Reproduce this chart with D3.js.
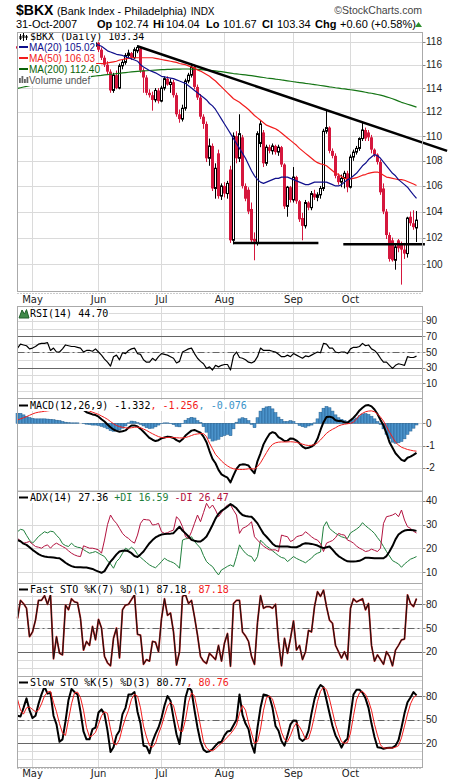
<!DOCTYPE html>
<html>
<meta charset="utf-8" />
<style>
	html, body, svg { margin: 0; padding: 0; }
	body { background: #fff; }
	text { font-family: "Liberation Sans", Arial, sans-serif; }
	.mono { font-family: "DejaVu Sans Mono", "Liberation Mono", monospace; font-size: 10px; }
	.ov { font-size: 10px; }
	.tick { font-size: 10px; fill: #222; }
	.month { font-family: "DejaVu Sans", Verdana, sans-serif; font-size: 10px; fill: #222; }
</style>
<svg width="460" height="781"></svg>
<script src="https://d3js.org/d3.v7.min.js"></script>
<script>
// daily bars, 24-Apr-2007 .. 31-Oct-2007: [open, high, low, close]
var ohlc = [
	[117.6,118.2,117.0,117.4],[117.4,117.9,116.8,117.1],[117.1,117.5,116.4,116.7],[116.7,117.8,116.5,117.6],[117.6,118.3,117.2,118.0],
	[118.0,118.5,117.5,117.8],[117.8,118.4,117.4,118.1],[118.1,118.6,117.6,117.9],[117.9,118.4,117.2,117.5],[117.5,117.9,116.9,117.2],
	[117.2,118.0,117.0,117.8],[117.8,118.4,117.5,118.2],[118.2,118.6,117.6,117.7],[117.7,117.9,116.6,116.8],[116.8,117.3,116.3,117.1],
	[117.1,117.4,116.2,116.4],[116.4,117.0,115.9,116.8],[116.8,117.6,116.6,117.4],[117.4,117.7,116.8,117.0],[117.0,117.3,116.3,116.5],
	[116.5,117.1,116.2,116.9],[116.9,117.6,116.7,117.4],[117.4,118.0,117.1,117.8],[117.8,118.2,117.3,117.5],[117.5,117.9,117.0,117.7],
	[117.7,118.3,117.4,118.0],[117.6,118.2,117.2,117.9],[117.9,118.1,117.1,117.3],[117.3,117.5,116.4,116.6],[116.6,116.8,115.8,116.0],
	[116.0,116.3,115.2,115.4],[115.4,115.6,113.6,113.8],[113.8,115.3,113.6,115.1],[115.1,115.5,113.9,114.0],[114.0,116.1,113.9,115.9],
	[115.9,116.4,115.6,116.2],[116.2,117.0,116.0,116.8],[116.8,117.3,116.5,117.0],[117.0,117.1,116.4,116.6],[116.6,117.5,116.5,117.3],
	[117.2,117.7,117.0,117.5],[117.4,117.6,115.3,115.5],[115.5,115.7,113.6,114.9],[114.9,115.1,113.4,113.6],[113.6,113.9,113.2,113.4],
	[113.4,113.7,112.1,113.0],[113.0,114.0,112.8,113.8],[113.8,114.0,112.7,112.9],[112.9,114.2,112.8,114.0],[114.0,115.0,113.8,114.8],
	[114.8,115.0,114.2,114.3],[114.3,114.8,113.6,114.5],[114.5,114.7,113.2,113.4],[113.4,113.6,111.6,111.8],[111.8,112.2,111.1,111.4],
	[111.4,112.6,111.2,112.3],[112.3,114.8,112.1,114.6],[114.6,115.3,114.4,115.1],[115.1,116.1,114.9,115.8],[115.8,116.0,113.9,114.1],
	[114.1,114.3,113.0,113.2],[113.2,113.5,111.4,111.6],[111.6,111.8,110.6,111.0],[111.0,111.2,107.9,108.2],[108.2,109.8,107.6,109.2],
	[109.2,109.4,105.6,105.8],[105.8,107.8,105.0,107.4],[108.6,108.9,105.0,105.2],[105.2,106.2,104.9,106.0],[106.0,106.3,105.1,105.4],
	[105.4,106.4,105.0,106.2],[107.3,107.6,101.6,101.8],[101.8,110.3,101.5,110.0],[110.0,110.4,107.8,108.2],[108.2,111.8,107.9,110.2],
	[109.9,110.1,105.8,106.0],[106.0,106.2,104.8,105.0],[105.7,105.9,103.8,104.0],[104.2,104.7,101.6,101.8],[101.9,102.4,100.3,101.7],
	[101.6,110.4,101.4,110.2],[109.4,111.3,109.1,111.0],[110.3,110.5,107.5,107.8],[107.8,109.3,107.6,109.1],[109.1,109.3,108.6,108.8],
	[108.8,109.4,108.5,109.2],[109.2,109.3,108.5,108.7],[108.7,109.3,108.4,109.1],[109.1,109.2,107.5,107.7],[107.7,107.8,104.2,104.4],
	[104.4,106.0,103.6,105.9],[105.9,106.0,104.7,104.9],[104.9,107.5,104.7,106.7],[106.7,106.8,104.6,104.8],[104.8,104.9,103.2,103.4],
	[103.5,103.9,101.8,102.9],[102.9,104.9,102.7,104.7],[104.7,104.8,104.1,104.3],[104.3,105.6,104.1,105.4],[105.4,105.7,104.9,105.1],
	[105.1,105.5,104.8,105.3],[105.3,106.0,105.0,105.8],[105.8,110.6,105.6,110.4],[110.4,112.1,110.2,110.7],[110.7,110.8,108.6,108.8],
	[108.8,109.0,108.2,108.4],[108.4,108.6,106.6,106.8],[106.8,107.0,106.1,106.3],[106.3,106.9,105.9,106.6],[106.6,107.2,105.8,107.0],
	[107.0,107.2,105.5,105.9],[105.9,108.5,105.8,108.3],[108.3,108.9,108.0,108.7],[108.7,109.2,108.5,109.0],[109.0,109.9,108.8,109.8],
	[109.8,111.2,109.6,110.5],[110.5,110.7,109.6,109.8],[110.3,110.5,109.6,109.9],[109.9,110.1,108.6,108.9],[108.9,109.0,108.3,108.5],
	[108.5,108.6,107.7,107.9],[107.9,108.1,105.3,105.5],[105.8,106.2,103.8,104.0],[104.0,104.2,101.9,102.2],[102.2,102.4,100.2,100.4],
	[101.8,102.0,100.2,100.3],[100.3,101.5,99.6,101.3],[101.8,101.9,100.9,101.2],[101.5,101.7,98.5,101.1],[101.1,101.6,100.4,100.8],
	[100.8,103.6,100.5,103.5],[103.6,104.0,102.9,103.1],[103.1,104.1,102.6,102.8],[102.74,104.04,101.67,103.34]
];

var ma20 = [
	117.5,117.5,117.5,117.5,117.5,117.5,117.5,117.6,117.6,117.6,
	117.6,117.6,117.6,117.6,117.6,117.6,117.6,117.6,117.6,117.6,
	117.6,117.7,117.7,117.7,117.8,117.8,117.8,117.7,117.6,117.4,
	117.2,117.1,117.0,116.9,116.85,116.8,116.7,116.6,116.5,116.4,
	116.3,116.0,115.8,115.65,115.5,115.4,115.3,115.15,115.0,114.95,
	114.9,114.85,114.8,114.7,114.6,114.5,114.4,114.2,114.0,113.8,
	113.6,113.4,113.2,113.0,112.7,112.5,112.2,111.8,111.4,111.0,
	110.6,110.2,109.8,109.4,109.0,108.6,108.2,107.7,107.2,106.8,
	106.5,106.3,106.2,106.3,106.4,106.5,106.6,106.6,106.7,106.7,
	106.7,106.6,106.5,106.4,106.3,106.2,106.1,106.1,106.2,106.3,
	106.3,106.3,106.3,106.3,106.2,106.1,106.0,106.0,106.1,106.3,
	106.5,106.6,106.8,107.0,107.3,107.6,107.8,108.1,108.3,108.5,
	108.4,108.2,107.9,107.6,107.3,107.0,106.8,106.5,106.3,106.1,
	105.9,105.6,105.3,105.02
];
var ma50 = [
	116.0,116.0,116.0,116.05,116.1,116.1,116.1,116.15,116.2,116.2,
	116.2,116.25,116.3,116.3,116.3,116.3,116.3,116.3,116.3,116.3,
	116.3,116.3,116.2,116.2,116.2,116.2,116.1,116.1,116.1,116.1,
	116.15,116.2,116.25,116.3,116.4,116.45,116.5,116.55,116.6,116.6,
	116.6,116.6,116.6,116.6,116.6,116.6,116.55,116.5,116.45,116.4,
	116.35,116.3,116.25,116.2,116.1,116.05,116.0,115.9,115.8,115.7,
	115.55,115.45,115.3,115.15,115.0,114.8,114.6,114.35,114.1,113.85,
	113.6,113.35,113.1,112.95,112.8,112.6,112.4,112.2,111.95,111.7,
	111.5,111.3,111.1,110.9,110.8,110.7,110.6,110.45,110.25,110.05,
	109.85,109.65,109.45,109.25,109.0,108.8,108.6,108.4,108.2,108.0,
	107.85,107.75,107.7,107.6,107.4,107.2,107.0,106.9,106.75,106.6,
	106.55,106.55,106.6,106.65,106.75,106.85,106.9,107.0,107.05,107.1,
	107.1,107.0,106.85,106.7,106.65,106.6,106.55,106.5,106.5,106.45,
	106.35,106.25,106.15,106.03
];
var ma200 = [
	113.97,114.03,114.09,114.15,114.21,114.27,114.32,114.36,114.40,114.44,
	114.48,114.52,114.56,114.60,114.64,114.68,114.72,114.75,114.78,114.81,
	114.84,114.87,114.90,114.93,114.96,115.0,115.03,115.06,115.09,115.12,
	115.15,115.18,115.2,115.23,115.26,115.29,115.32,115.35,115.38,115.4,
	115.42,115.44,115.46,115.48,115.5,115.52,115.54,115.56,115.57,115.58,
	115.6,115.6,115.61,115.62,115.62,115.63,115.63,115.63,115.62,115.61,
	115.6,115.58,115.56,115.54,115.52,115.49,115.46,115.43,115.40,115.36,
	115.32,115.28,115.24,115.21,115.18,115.15,115.12,115.09,115.06,115.02,
	114.98,114.94,114.9,114.86,114.83,114.8,114.76,114.73,114.69,114.66,
	114.62,114.58,114.54,114.5,114.47,114.44,114.4,114.37,114.33,114.3,
	114.26,114.22,114.18,114.14,114.1,114.07,114.03,114.0,113.96,113.93,
	113.89,113.86,113.82,113.78,113.74,113.7,113.65,113.6,113.56,113.51,
	113.46,113.41,113.34,113.26,113.18,113.1,113.0,112.9,112.8,112.72,
	112.64,112.56,112.48,112.4
];
// trend lines drawn on the price chart: [[bar, price], [bar, price]]
var trendLines = [
	[[40, 117.6], [143.2, 108.8]],
	[[71.9, 101.6], [100.3, 101.6]],
	[[108.6, 101.5], [135.8, 101.5]]
];

var rsi = [
	55,60,59,58,54,55,57,60,61,61, 62,52,55,50,50,54,59,58,57,57,
	56,55,50,52,52,51,54,50,46,41, 37,32,44,46,40,49,48,52,54,55,
	48,47,40,37,37,42,39,44,48,47, 46,44,42,36,38,50,52,54,55,48,
	42,38,35,29,31,27,33,31,33,34, 34,27,45,50,43,42,40,37,36,38,
	44,55,52,52,52,51,50,47,44,44, 46,44,48,46,44,42,45,44,46,48,
	50,49,61,60,55,55,50,49,50,50, 48,54,56,56,57,61,58,59,54,52,
	48,42,37,37,33,29,33,35,34,33, 44,43,43,44.7
];

var macd = [
	0.6,0.62,0.62,0.63,0.65,0.67,0.68,0.7,0.7,0.71, 0.72,0.72,0.7,0.68,0.66,0.66,0.67,0.68,0.7,0.72,
	0.74,0.7,0.6,0.5,0.45,0.4,0.37,0.3,0.18,0.08, -0.05,-0.18,-0.28,-0.34,-0.38,-0.36,-0.32,-0.2,-0.1,-0.1,
	-0.14,-0.25,-0.38,-0.52,-0.66,-0.74,-0.8,-0.76,-0.68,-0.64, -0.6,-0.62,-0.66,-0.76,-0.83,-0.72,-0.55,-0.44,-0.33,-0.3,
	-0.36,-0.42,-0.6,-0.85,-1.25,-1.6,-1.8,-2.1,-2.3,-2.38, -2.45,-2.66,-2.35,-2.05,-1.88,-1.85,-1.86,-1.9,-2.1,-2.25,
	-1.7,-1.35,-0.95,-0.7,-0.48,-0.4,-0.45,-0.62,-0.7,-0.8, -0.78,-0.68,-0.7,-0.78,-0.9,-1.05,-1.13,-1.1,-1.05,-0.95,
	-0.7,-0.3,0.05,0.28,0.3,0.26,0.14,0.1,0.1,0.05, 0.02,0.14,0.25,0.4,0.58,0.7,0.8,0.82,0.76,0.62,
	0.42,0.15,-0.1,-0.45,-0.85,-1.1,-1.35,-1.5,-1.65,-1.7, -1.55,-1.5,-1.42,-1.332
];
var signal = [
	0.15,0.2,0.25,0.3,0.36,0.42,0.47,0.5,0.52,0.54, 0.56,0.58,0.6,0.61,0.62,0.63,0.63,0.64,0.65,0.66,
	0.67,0.67,0.64,0.6,0.55,0.5,0.45,0.4,0.33,0.26, 0.18,0.08,-0.02,-0.1,-0.15,-0.18,-0.2,-0.22,-0.2,-0.18,
	-0.17,-0.2,-0.26,-0.32,-0.4,-0.47,-0.54,-0.6,-0.64,-0.65, -0.64,-0.63,-0.64,-0.65,-0.66,-0.66,-0.64,-0.6,-0.55,-0.5,
	-0.48,-0.46,-0.47,-0.6,-0.9,-1.15,-1.4,-1.55,-1.7,-1.82, -1.92,-2.0,-2.05,-2.07,-2.08,-2.08,-2.07,-2.05,-2.05,-2.06,
	-1.95,-1.78,-1.55,-1.32,-1.1,-0.95,-0.88,-0.85,-0.84,-0.84, -0.84,-0.83,-0.84,-0.86,-0.9,-0.94,-0.98,-1.0,-0.99,-0.96,
	-0.88,-0.75,-0.6,-0.45,-0.35,-0.27,-0.2,-0.12,-0.07,-0.04, -0.02,0.0,0.05,0.2,0.36,0.45,0.52,0.55,0.56,0.52,
	0.42,0.28,0.1,-0.15,-0.4,-0.62,-0.85,-0.98,-1.08,-1.13, -1.18,-1.21,-1.24,-1.256
];
var hist = [
	0.45,0.45,0.38,0.3,0.26,0.22,0.2,0.2,0.2,0.2, 0.19,0.18,0.16,0.14,0.12,0.08,0.05,0.03,0.02,0.02,
	0.02,0.0,-0.02,-0.04,-0.06,-0.08,-0.08,-0.1,-0.14,-0.18, -0.25,-0.33,-0.36,-0.34,-0.3,-0.22,-0.12,0.02,0.1,0.08,
	0.03,-0.05,-0.12,-0.2,-0.24,-0.22,-0.16,-0.08,-0.02,0.02, 0.02,-0.02,-0.06,-0.14,-0.16,-0.02,0.14,0.22,0.27,0.24,
	0.12,0.04,-0.15,-0.4,-0.68,-0.8,-0.76,-0.72,-0.6,-0.55, -0.5,-0.56,-0.25,0.05,0.2,0.25,0.22,0.12,-0.05,-0.2,
	0.25,0.55,0.68,0.74,0.76,0.65,0.48,0.28,0.18,0.08, 0.08,0.12,0.08,-0.02,-0.1,-0.15,-0.18,-0.12,-0.08,0.02,
	0.2,0.5,0.68,0.76,0.7,0.55,0.38,0.25,0.18,0.12, 0.08,0.14,0.18,0.24,0.34,0.42,0.44,0.4,0.32,0.2,
	0.08,-0.05,-0.25,-0.5,-0.68,-0.85,-0.9,-0.88,-0.82,-0.7, -0.5,-0.35,-0.22,-0.076
];

var adx = [
	23.5,23,22,21.5,20.5,19.4,18.5,17.6,17,16.6, 16.4,16.3,16.2,16,15.9,15,14,13.2,12.6,12.2,
	12.1,12.1,12,12,11.7,11.4,10.8,10.3,9.8,10.5, 12.5,14.5,15.9,17.5,18.7,19,19.1,18.8,18,16.8,
	16.4,17.5,18.7,20.5,22.2,23.5,24.6,25.3,25.8,26, 26.1,26.2,26.4,27.8,29.1,27.5,26.3,25,23.6,23.2,
	22.9,22.9,23.8,25,27.3,29.8,32.5,34.5,35.8,36.6, 37.5,38.6,37.8,36.8,35.2,34,33.6,33.4,33.3,32,
	30.5,28.3,26.2,24.9,23.5,22,21,20.8,20.8,20.8, 20.8,20.6,20.5,20.5,21,21.8,22.2,22.1,21.9,21.6,
	21.2,20.6,20.1,20.5,20.8,19.5,18,16.8,16,15.2, 14.6,14.5,14.5,14.6,14.8,15.4,16.1,16.1,16,15.9,
	15.9,15.9,15.9,16.8,18.7,21,23.8,25.8,26.8,27.5, 27.7,27.7,27.6,27.36
];
var plusDI = [
	27,28,27.7,25.5,23.5,22.2,23.5,25,26,27, 26.5,27.2,27,25.5,24.2,22,21.2,20.8,22.2,21,
	20.5,20.3,19.5,18.7,18,18.3,18.7,18,17.3,16.6, 14.8,13.5,11.7,14.5,15.8,18,20.1,19.4,20.5,19.5,
	17.5,16.3,15.2,14.1,13.1,12.4,11.9,13.1,14.5,15.9, 15,14.5,14,13.1,11.7,23.5,24,24.2,24.9,22.9,
	21.5,20.1,17,14.5,13.3,12.4,10.5,8.9,11,11.7, 12.5,13.1,12.4,16.6,21.5,19.5,18,17,16.6,14.5,
	16.6,23.5,22.2,21,20.1,19,18,17,16.2,15.9, 14.5,15.5,16.6,15.8,15.2,14.6,14,15,15.9,17.3,
	18,18.5,29.1,31.2,28.4,27.3,26.3,25.6,24.9,24.5, 24.2,26.5,27.3,28.1,29.1,30.8,29.5,28.5,27.5,26.3,
	24.5,22.9,20.8,18.7,16.8,14.9,14.2,13.5,12.1,13.5, 14.5,15.5,16,16.59
];
var minusDI = [
	24.2,23.2,22.2,22.5,22.9,21.8,20.8,20.5,20.1,21, 21.5,20.1,21.5,22.2,21.5,20.8,20.1,19,18,17.3,
	16.8,16.6,21.1,20.6,20.1,20.1,19.8,19.4,18,23.5, 30,34,31.9,30.5,28.4,26.3,25,24.2,23,22.2,
	25.6,30.5,32.2,32,31.9,29.8,30,30.5,27,26.3, 26.6,27.2,27.7,33.3,31.9,29.1,24.9,24.2,27,30.5,
	34,31.2,35,38.9,36.8,38.2,36.1,33.3,35,36.8, 38.2,38.2,36,34,26.3,28.4,29,29.8,31.2,24.9,
	23.5,22.2,21,20.1,19.4,19.4,19.4,18.7,25.6,25.2, 24.9,22.9,23.5,24.9,25.3,25.6,27,26,24.9,24,
	23.5,22,18.7,22.2,22.8,23.3,24.5,26.3,25.8,25.6, 23.5,23,22.2,21,20.1,19.5,18.7,19,19.7,19.2,
	18.7,20.1,30.5,33.3,33.6,34,34.7,33.3,36.1,31.9, 29.1,28.4,27.2,26.47
];

var fastK = [
	62,85,81,75,39,45,60,85,85,91, 80,92,11,39,18,16,79,73,87,83,
	82,62,22,33,28,52,35,61,50,14, 6,2,37,50,12,73,79,80,86,92,
	42,41,4,10,8,33,32,20,62,87, 66,69,45,3,20,90,92,81,85,64,
	41,14,8,5,18,14,10,28,8,31, 43,1.5,81,85,85,45,40,33,14,4,
	57,91,75,77,77,75,80,33,2,37, 18,37,59,22,28,10,20,47,45,77,
	96,90,98,77,60,56,28,20,12,20, 10,75,87,83,85,87,73,81,28,8,
	16,10,4,20,14,2,22,28,35,36, 92,81,77,87.18
];
var slowK = [
	55,54,65,77,62,52,55,70,82,92, 83,84,55,44,22,25,48,75,89,85,
	82,60,35,25,25,38,40,59,63,57, 36,9,15,30,36,57,65,82,82,85,
	60,45,17,16,7.4,22,32,40,52,68, 80,74,52,31.5,19,48,78,91,87,62,
	40,22,12,9,10,12.5,17,21,22,30, 35,36,43,50,82,56,45,38,19,8,
	40,65,82,81,79,65,42,36,23,17, 30,44,49,48.5,26,23,26,36,58,76,
	88,94,91,75,58,42,30,23,14.5,22, 26,55,82,88,88,84,77,65,45,28,
	15,14.5,13,14,14.5,14.5,17,24,40,58, 72,78,85,80.77
];
var slowD = [
	76,62,57,65,66,63,60,62,70,80, 85,86,72,60,45,33,30,50,70,84,
	85,78,62,40,28,30,34,44,55,60, 58,38,20,18,25,40,52,62,76,82,
	80,65,42,28,17,15,20,32,42,55, 67,72,68,52,36,35,50,72,84,80,
	62,42,22,14,11,10.5,13,17,20,24, 28,32,37,43,58,68,62,46,33,20,
	22,38,62,78,80,76,63,50,34,25, 22,30,40,46,41,34,25,26,38,55,
	73,86,91,88,76,60,44,32,22,20, 21,33,55,75,84,86,82,74,62,44,
	30,18,14,14,14,14,15,17,27,42, 57,70,78,80.76
];

var priceTicks = [100, 102, 104, 106, 108, 110, 112, 114, 116, 118];
var rsiTicks = [10, 30, 50, 70, 90];
var macdTicks = [0, -1, -2];
var adxTicks = [10, 20, 30, 40];
var stoTicks = [20, 50, 80];
var holidays = ["2007-05-28", "2007-07-04", "2007-09-03"];

var red = "#d5173d";
var svg = d3.select("svg");
var L = 17.5, R = 422.5;

var iso = d3.timeFormat("%Y-%m-%d");
var days = d3.timeDay.range(new Date(2007, 3, 24), new Date(2007, 10, 1)).filter(function (d) {
	return d.getDay() % 6 !== 0 && holidays.indexOf(iso(d)) < 0;
});
var monthStarts = d3.range(1, days.length).filter(function (i) {
	return days[i].getMonth() !== days[i - 1].getMonth();
});

var x = d3.scaleLinear().domain([0, ohlc.length - 1]).range([17.5, 416.5]);
var yP = d3.scaleLog().domain([100, 118]).range([264.3, 41.7]);
var yRsi = d3.scaleLinear().domain([10, 90]).range([383.3, 320.7]);
var yMacd = d3.scaleLinear().domain([0, -2]).range([423.3, 467.7]);
var yAdx = d3.scaleLinear().domain([10, 40]).range([572.3, 500.7]);
var yFs = d3.scaleLinear().domain([20, 80]).range([651.7, 604.3]);
var ySs = d3.scaleLinear().domain([20, 80]).range([743.3, 696]);

function px(v) { return Math.round(v) + 0.5; }

function panel(top, bottom, y, grid, ticks, fmt) {
	var g = svg.append("g");
	g.append("rect").attr("x", L).attr("y", top).attr("width", R - L).attr("height", bottom - top).attr("fill", "#fff");
	g.selectAll(null).data(monthStarts).enter().append("line")
		.attr("x1", function (d) { return x(d); }).attr("x2", function (d) { return x(d); })
		.attr("y1", top).attr("y2", bottom).attr("stroke", "#dadada");
	g.selectAll(null).data(grid).enter().append("line")
		.attr("x1", L).attr("x2", R)
		.attr("y1", function (d) { return px(y(d)); }).attr("y2", function (d) { return px(y(d)); })
		.attr("stroke", "#dadada");
	g.selectAll(null).data(ticks).enter().append("line")
		.attr("x1", R).attr("x2", R + 3)
		.attr("y1", function (d) { return px(y(d)); }).attr("y2", function (d) { return px(y(d)); })
		.attr("stroke", "#888");
	g.selectAll(null).data(ticks).enter().append("text").attr("class", "tick")
		.attr("x", R + 3.5).attr("y", function (d) { return y(d) + 3.5; })
		.text(fmt || function (d) { return d; });
	return g;
}

function levels(g, y, dark, dash) {
	g.selectAll(null).data(dark).enter().append("line")
		.attr("x1", L).attr("x2", R)
		.attr("y1", function (d) { return px(y(d)); }).attr("y2", function (d) { return px(y(d)); })
		.attr("stroke", "#666");
	g.append("line").attr("x1", L).attr("x2", R).attr("y1", px(y(dash))).attr("y2", px(y(dash)))
		.attr("stroke", "#666").attr("stroke-dasharray", "7,3,2,3");
}

function path(g, data, y, color, width) {
	g.append("path").datum(data).attr("fill", "none").attr("stroke", color).attr("stroke-width", width)
		.attr("stroke-linejoin", "round")
		.attr("d", d3.line().x(function (d, i) { return x(i); }).y(function (d) { return y(d); }));
}

function legendRow(g, yb, parts, cls, x0) {
	var row = g.append("g");
	var bg = row.append("rect").attr("fill", "#fff");
	var t = row.append("text").attr("class", cls).attr("x", x0).attr("y", yb);
	parts.forEach(function (p) { t.append("tspan").attr("fill", p[1]).text(p[0]); });
	var b = t.node().getBBox();
	bg.attr("x", L + 0.5).attr("y", yb - 9).attr("width", b.x + b.width - L).attr("height", 11);
	return row;
}

function dash(g, yc, color) {
	g.append("line").attr("x1", 19).attr("x2", 28).attr("y1", yc).attr("y2", yc)
		.attr("stroke", color).attr("stroke-width", 2);
}

function border(top, bottom) {
	svg.append("rect").attr("x", L).attr("y", top + 0.5).attr("width", R - L).attr("height", bottom - top)
		.attr("fill", "none").attr("stroke", "#aaa");
}

// ---------- header ----------
var hd = svg.append("g");
var sym = hd.append("text").attr("x", 16).attr("y", 15).attr("font-size", 14).attr("font-weight", "bold").text("$BKX");
var nm = hd.append("text").attr("x", sym.node().getBBox().width + 19).attr("y", 15).attr("font-size", 10.8)
	.text("(Bank Index - Philadelphia)");
var nb = nm.node().getBBox();
hd.append("text").attr("x", nb.x + nb.width + 4).attr("y", 15).attr("font-size", 10).text("INDX");
hd.append("text").attr("x", 422).attr("y", 14).attr("font-size", 10.5).attr("fill", "#444")
	.attr("text-anchor", "end").text("\u00a9StockCharts.com");
var quote = [
	[16, "31-Oct-2007", false], [97, "Op", true], [115, "102.74", false], [153, "Hi", true], [166, "104.04", false],
	[206, "Lo", true], [223, "101.67", false], [262, "Cl", true], [277, "103.34", false], [315, "Chg", true],
	[340, "+0.60 (+0.58%)", false]
];
quote.forEach(function (q) {
	hd.append("text").attr("x", q[0]).attr("y", 27.5).attr("font-size", 11)
		.attr("font-weight", q[2] ? "bold" : "normal").text(q[1]);
});
hd.append("path").attr("d", "M415,27L422,27L418.5,22Z").attr("fill", "#2f8f2f");

// ---------- price panel ----------
var gP = panel(32, 291, yP, priceTicks, priceTicks);

var bar = gP.selectAll(null).data(ohlc).enter().append("g");
bar.append("line")
	.attr("x1", function (d, i) { return x(i); }).attr("x2", function (d, i) { return x(i); })
	.attr("y1", function (d) { return yP(d[1]); }).attr("y2", function (d) { return yP(d[2]); })
	.attr("stroke", function (d) { return d[3] >= d[0] ? "#000" : red; });
bar.append("rect")
	.attr("x", function (d, i) { return d[3] >= d[0] ? x(i) - 1 : x(i) - 1.5; })
	.attr("width", function (d) { return d[3] >= d[0] ? 2 : 3; })
	.attr("y", function (d) { return yP(Math.max(d[0], d[3])); })
	.attr("height", function (d) { return Math.max(1, Math.abs(yP(d[0]) - yP(d[3]))); })
	.attr("fill", function (d) { return d[3] >= d[0] ? "#fff" : red; })
	.attr("stroke", function (d) { return d[3] >= d[0] ? "#000" : "none"; });

path(gP, ma200, yP, "#157515", 1.2);
path(gP, ma50, yP, "#f21c1c", 1.2);
path(gP, ma20, yP, "#10108c", 1.2);

trendLines.forEach(function (t) {
	svg.append("line").attr("x1", x(t[0][0])).attr("y1", yP(t[0][1])).attr("x2", x(t[1][0])).attr("y2", yP(t[1][1]))
		.attr("stroke", "#000").attr("stroke-width", 2.5);
});

var lg = svg.append("g");
legendRow(lg, 40, [["$BKX (Daily) 103.34", "#000"]], "mono", 30);
legendRow(lg, 51, [["MA(20) 105.02", "#10108c"]], "ov", 29);
legendRow(lg, 62, [["MA(50) 106.03", "#f21c1c"]], "ov", 29);
legendRow(lg, 73, [["MA(200) 112.40", "#0a640a"]], "ov", 29);
legendRow(lg, 84, [["Volume undef", "#555"]], "ov", 29);
[[20, 34, 40, 36, 39], [23, 33, 41, 35, 38], [26, 35, 40, 36, 38]].forEach(function (c) {
	lg.append("line").attr("x1", c[0] + 0.5).attr("x2", c[0] + 0.5).attr("y1", c[1]).attr("y2", c[2]).attr("stroke", "#000");
	lg.append("rect").attr("x", c[0] - 0.5).attr("y", c[3]).attr("width", 2).attr("height", c[4] - c[3]).attr("fill", "#000");
});
dash(lg, 47, "#10108c");
dash(lg, 58, "#f21c1c");
dash(lg, 69, "#0a640a");
[[19, 78], [21.5, 76], [24, 79], [26.5, 77]].forEach(function (b) {
	lg.append("rect").attr("x", b[0]).attr("y", b[1]).attr("width", 1.8).attr("height", 83 - b[1]).attr("fill", "#666");
});
border(32, 291);

// month labels (top and bottom)
svg.append("line").attr("x1", L).attr("x2", R).attr("y1", 293.5).attr("y2", 293.5)
	.attr("stroke", "#999").attr("stroke-dasharray", "1,2");
svg.append("line").attr("x1", L).attr("x2", R).attr("y1", 768.5).attr("y2", 768.5)
	.attr("stroke", "#999").attr("stroke-dasharray", "1,2");
[302.5, 777].forEach(function (yy) {
	svg.selectAll(null).data(monthStarts).enter().append("text").attr("class", "month")
		.attr("x", function (d) { return x(d); }).attr("y", yy).attr("text-anchor", "middle")
		.text(function (d) { return d3.timeFormat("%b")(days[d]); });
});

// ---------- RSI ----------
var gR = panel(306, 398, yRsi, d3.range(0, 101, 10), rsiTicks);
levels(gR, yRsi, [30, 70], 50);
path(gR, rsi, yRsi, "#000", 1.2);
legendRow(gR, 317, [["RSI(14) 44.70", "#000"]], "mono", 30);
gR.append("path").attr("d", "M19,318L22,310L24.5,314L26.5,309.5L29,318Z").attr("fill", "#3f8a4a").attr("stroke", "#1f5f2a");
border(306, 398);

// ---------- MACD ----------
var gM = panel(398, 491, yMacd, [1, 0, -1, -2, -3], macdTicks);
gM.selectAll(null).data(hist).enter().append("rect")
	.attr("x", function (d, i) { return x(i) - 1.5; }).attr("width", 3)
	.attr("y", function (d) { return Math.min(yMacd(d), yMacd(0)); })
	.attr("height", function (d) { return Math.abs(yMacd(d) - yMacd(0)); })
	.attr("fill", "#4b93cb").attr("stroke", "#245f8e").attr("stroke-width", 0.5);
path(gM, macd, yMacd, "#000", 2);
path(gM, signal, yMacd, "#f21c1c", 1);
legendRow(gM, 409, [["MACD(12,26,9) -1.332", "#000"], [", -1.256", "#f21c1c"], [", -0.076", "#3a93c8"]], "mono", 30);
dash(gM, 405.5, "#000");
border(398, 491);

// ---------- ADX ----------
var gA = panel(491, 583, yAdx, adxTicks, adxTicks);
path(gA, plusDI, yAdx, "#1f7f3c", 1);
path(gA, minusDI, yAdx, "#b3123f", 1);
path(gA, adx, yAdx, "#000", 2);
legendRow(gA, 501, [["ADX(14) 27.36 ", "#000"], ["+DI 16.59 ", "#1f7f3c"], ["-DI 26.47", "#b3123f"]], "mono", 30);
dash(gA, 497.5, "#000");
border(491, 583);

// ---------- Fast STO ----------
var gF = panel(583, 676, yFs, d3.range(0, 101, 10), stoTicks);
levels(gF, yFs, [20, 80], 50);
path(gF, fastK, yFs, "#c41e1e", 1.8);
path(gF, fastK, yFs, "#111", 1);
legendRow(gF, 593, [["Fast STO %K(7) %D(1) 87.18", "#000"], [", 87.18", "#f21c1c"]], "mono", 30);
dash(gF, 589.5, "#000");
border(583, 676);

// ---------- Slow STO ----------
var gS = panel(676, 767, ySs, d3.range(0, 101, 10), stoTicks);
levels(gS, ySs, [20, 80], 50);
path(gS, slowK, ySs, "#000", 2);
path(gS, slowD, ySs, "#f21c1c", 1);
legendRow(gS, 686, [["Slow STO %K(5) %D(3) 80.77", "#000"], [", 80.76", "#f21c1c"]], "mono", 30);
dash(gS, 682.5, "#000");
border(676, 767);
</script>
</html>
